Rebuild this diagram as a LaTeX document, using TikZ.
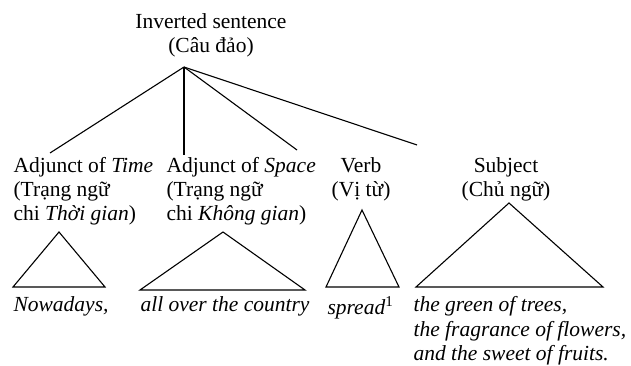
\documentclass[tikz,border=0pt]{standalone}
\usepackage{fontspec}
\setmainfont{Liberation Serif}
\usetikzlibrary{positioning}

\begin{document}
\begin{tikzpicture}[x=1pt,y=-1pt,line width=1.1pt,
    lbl/.style={inner sep=0pt,font=\fontsize{21.5}{24}\selectfont},
    leaf/.style={lbl,align=left,font=\fontsize{21.5}{24.5}\selectfont\itshape}]
    \useasboundingbox (0,0) rectangle (631,366);
    % labels
    \node[lbl,align=center,anchor=north] (root) at (211,13) {Inverted sentence\\(Câu đảo)};
    \node[lbl,align=left,anchor=north west] (time) at (13,157) {Adjunct of \textit{Time}\\(Trạng ngữ\\chi \textit{Thời gian})};
    \node[lbl,align=left,anchor=north west] (space) at (166,157) {Adjunct of \textit{Space}\\(Trạng ngữ\\chi \textit{Không gian})};
    \node[lbl,align=center,anchor=north] (verb) at (361,157) {Verb\\(Vị từ)};
    \node[lbl,align=center,anchor=north] (subj) at (506,157) {Subject\\(Chủ ngữ)};
    % branches
    \coordinate (apex) at (184,67);
    \coordinate (time-end) at (50,153);
    \coordinate (space-end) at (184,155);
    \coordinate (verb-end) at (297,150);
    \coordinate (subj-end) at (417,145);
    \foreach \e in {time,space,verb,subj} {
        \draw (apex) -- (\e-end);
    }
    % triangles
    \foreach \ax/\ay/\l/\r/\by in {59/232/13/105/287, 223/232/140/305/290, 362/210/326/399/287, 509/203/416/603/287} {
        \draw[line join=miter] (\ax,\ay) -- (\l,\by) -- (\r,\by) -- cycle;
    }
    % leaves
    \node[leaf,anchor=north west] (now) at (13,296) {Nowadays,};
    \node[leaf,anchor=north west] (country) at (140,296) {all over the country};
    \node[leaf,anchor=north west] (spread) at (327,296) {spread\textsuperscript{\upshape 1}};
    \node[leaf,anchor=north west] (fruits) at (413,296) {the green of trees,\\the fragrance of flowers,\\and the sweet of fruits.};
\end{tikzpicture}
\end{document}
